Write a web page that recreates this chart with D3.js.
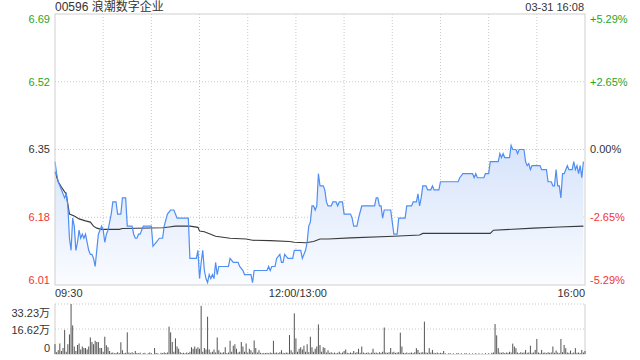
<!DOCTYPE html>
<html>
<head>
<meta charset="utf-8">
<script src="https://cdn.jsdelivr.net/npm/d3@7"></script>
<style>
  body { margin: 0; background: #fff; }
  text { font-family: "Liberation Sans", Arial, "Noto Sans CJK SC", sans-serif; }
</style>
</head>
<body>
<div id="chart"></div>
<script>
const title = "00596 浪潮数字企业";
const stamp = "03-31 16:08";
const prevClose = 6.35;
const maxPct = 0.0529;
const timeLabels = ["09:30", "12:00/13:00", "16:00"];
const volLabels = ["33.23万", "16.62万", "0"];

// [minute since 09:30 (lunch removed), price]
const price = [
  [0,6.32],[1,6.29],[2,6.27],[3,6.26],[4,6.25],[5,6.24],[6,6.23],[7,6.24],[8,6.21],[9,6.13],
  [10,6.10],[11,6.18],[12,6.16],[13,6.10],[14,6.12],[15,6.15],[16,6.13],[17,6.14],[18,6.13],[19,6.14],
  [20,6.12],[21,6.10],[22,6.09],[23,6.09],[24,6.08],[25,6.06],[26,6.10],[27,6.14],[28,6.15],[29,6.16],
  [30,6.15],[31,6.12],[32,6.14],[33,6.15],[34,6.17],[35,6.19],[36,6.22],[38,6.22],[39,6.19],[41,6.19],
  [42,6.23],[44,6.23],[45,6.16],[48,6.16],[49,6.14],[50,6.13],[51,6.13],[52,6.14],[53,6.14],[55,6.16],
  [60,6.16],[61,6.11],[63,6.12],[65,6.13],[67,6.13],[68,6.16],[70,6.19],[72,6.20],[74,6.20],[76,6.18],
  [83,6.18],[84,6.08],[88,6.08],[89,6.10],[90,6.03],[91,6.07],[92,6.10],[93,6.05],[94,6.03],[95,6.02],
  [96,6.04],[97,6.03],[98,6.04],[99,6.03],[100,6.07],[101,6.04],[102,6.06],[108,6.06],[109,6.08],[111,6.07],
  [114,6.07],[115,6.06],[117,6.05],[118,6.04],[122,6.04],[123,6.02],[124,6.05],[132,6.05],[133,6.06],[134,6.05],
  [135,6.06],[137,6.06],[138,6.08],[140,6.09],[141,6.07],[142,6.07],[143,6.09],[145,6.08],[148,6.08],[149,6.10],
  [153,6.10],[154,6.08],[156,6.10],[157,6.12],[158,6.16],[159,6.17],[160,6.21],[161,6.21],[162,6.20],[163,6.21],
  [164,6.29],[165,6.26],[167,6.26],[168,6.25],[169,6.22],[170,6.21],[172,6.21],[173,6.22],[175,6.22],[176,6.21],
  [177,6.22],[179,6.22],[180,6.19],[184,6.19],[185,6.18],[186,6.16],[188,6.16],[189,6.18],[191,6.21],[199,6.21],
  [200,6.23],[201,6.23],[202,6.21],[203,6.21],[204,6.18],[205,6.20],[209,6.20],[210,6.17],[211,6.14],[213,6.14],
  [214,6.18],[218,6.18],[219,6.21],[222,6.21],[223,6.22],[225,6.22],[226,6.24],[227,6.21],[228,6.23],[229,6.26],
  [231,6.26],[232,6.25],[234,6.25],[235,6.26],[236,6.25],[239,6.25],[240,6.27],[251,6.27],[252,6.28],[254,6.29],
  [260,6.29],[261,6.28],[262,6.29],[263,6.28],[267,6.28],[268,6.29],[270,6.29],[271,6.32],[276,6.32],[277,6.34],
  [278,6.33],[279,6.34],[280,6.33],[283,6.33],[284,6.36],[285,6.35],[287,6.35],[288,6.34],[289,6.35],[292,6.35],
  [293,6.32],[294,6.31],[295,6.315],[296,6.30],[297,6.31],[302,6.31],[303,6.30],[306,6.30],[307,6.27],[309,6.27],
  [310,6.26],[311,6.26],[312,6.30],[313,6.26],[314,6.26],[315,6.23],[316,6.29],[317,6.29],[318,6.30],[319,6.31],
  [320,6.30],[322,6.30],[323,6.32],[324,6.30],[325,6.31],[326,6.29],[327,6.31],[328,6.28],[329,6.32]
];

// [minute, average price]
const avgPrice = [
  [0,6.295],[2,6.27],[4,6.257],[6,6.245],[7,6.24],[9,6.19],[12,6.185],[15,6.178],[19,6.173],[22,6.17],
  [24,6.16],[26,6.155],[29,6.152],[40,6.152],[42,6.154],[67,6.156],[71,6.158],[75,6.16],[84,6.16],[89,6.157],
  [90,6.148],[93,6.146],[100,6.135],[109,6.13],[119,6.128],[123,6.125],[134,6.124],[146,6.122],[149,6.12],[156,6.119],
  [161,6.122],[165,6.128],[170,6.128],[184,6.131],[211,6.135],[227,6.138],[229,6.142],[271,6.142],[273,6.15],[298,6.155],
  [314,6.158],[329,6.16]
];

// [minute, volume in 万 shares]
const volume = [
  [0,6.6],[1,1.2],[2,2.5],[3,7],[4,2],[5,4],[6,16],[7,1.5],[8,6.5],[9,13],[10,33.23],[11,19],[12,5],[13,2],
  [14,6],[15,7],[16,3],[17,5],[18,4],[19,4],[20,3],[21,5],[22,11],[23,8],[24,6.5],[25,8.8],[26,8],[27,8],
  [28,4],[29,4],[30,1.5],[31,11.5],[32,5.8],[33,4.5],[34,2],[35,0.8],[36,1],[37,0.5],[38,0.7],[39,1.2],
  [40,0.6],[41,7.8],[42,2.5],[43,0.6],[44,0.8],[45,14.4],[46,1],[47,0.6],[48,1.2],[49,0.5],[50,2],[51,0.7],
  [52,0.5],[53,0.9],[55,0.6],[56,0.8],[58,0.5],[59,1],[60,0.6],[62,4],[63,0.7],[64,0.5],[66,0.8],[67,0.6],
  [68,1.1],[69,0.7],[70,1],[71,18.2],[72,14.4],[73,8],[74,1.5],[75,10.4],[76,5],[77,3.5],[78,1.2],[79,0.6],
  [80,0.8],[81,0.5],[82,1],[83,0.7],[84,1.5],[85,4.5],[86,3.5],[87,5],[88,3.5],[89,4.5],[90,3.5],[91,32],
  [92,1.5],[93,4],[94,3],[95,24.8],[96,3],[97,1],[98,1.5],[99,3],[100,1],[101,11],[102,2.5],[103,1],[104,0.8],
  [105,1.2],[106,4.5],[107,0.6],[108,1],[109,8.8],[110,1.5],[111,5.5],[112,6.5],[113,3.5],[114,1],[115,1.5],
  [116,8],[117,5],[118,1.5],[119,7],[120,1],[121,3.5],[122,2.5],[123,1],[124,9],[125,4],[126,1],[127,2.5],
  [128,0.8],[129,0.5],[130,0.7],[131,0.6],[132,0.8],[133,0.5],[134,1],[135,0.7],[136,8.8],[137,0.8],[138,1],
  [139,0.6],[140,1.2],[141,2.5],[142,0.8],[143,0.6],[144,1],[145,0.8],[146,12.6],[147,2.5],[148,1],[149,27],
  [150,10.4],[151,1.5],[152,3.5],[153,4.5],[154,3],[155,5.5],[156,1.5],[157,6.5],[158,1.2],[159,11.5],
  [160,4.5],[161,1.5],[162,3.5],[163,5],[164,19.7],[165,6],[166,1.5],[167,4.5],[168,4],[169,1],[170,2.5],
  [171,0.8],[172,1.2],[173,0.6],[174,1],[175,0.5],[176,0.8],[177,1.5],[178,0.6],[179,1],[180,2],[181,3],
  [182,0.8],[183,0.6],[184,1],[185,0.7],[186,2],[187,0.8],[188,1.2],[189,3.5],[190,0.8],[191,5],[192,1],
  [193,0.6],[194,0.8],[195,1],[196,0.5],[197,0.9],[198,3.5],[199,0.8],[200,1],[201,0.6],[202,1.2],[203,0.8],
  [204,1.5],[205,17.6],[206,1],[207,0.8],[208,1.2],[209,4],[210,1],[211,1.5],[212,0.7],[213,1],[214,1.2],
  [215,14.2],[216,5],[217,0.8],[218,0.6],[219,1],[220,0.5],[221,0.8],[222,1],[223,0.6],[224,1.2],[225,3.9],
  [226,2.7],[227,0.8],[228,1],[229,1.2],[230,21.5],[231,1],[232,0.8],[233,3.9],[234,1],[235,2.7],[236,0.8],
  [237,0.6],[238,1],[239,0.5],[240,0.8],[241,0.6],[242,2],[243,0.5],[245,0.4],[246,0.6],[248,0.5],[250,0.4],
  [251,0.7],[253,0.5],[255,0.4],[256,0.6],[258,0.5],[260,0.4],[262,0.6],[264,0.5],[266,0.4],[268,0.6],
  [270,0.5],[272,0.8],[273,1],[274,19.9],[275,12.4],[276,3.9],[277,1],[278,0.8],[279,1.2],[280,0.6],[281,1],
  [282,0.8],[283,1.5],[284,1],[285,6.9],[286,5],[287,3.9],[288,1],[289,0.6],[290,1.2],[291,0.8],[292,1],
  [293,2.7],[294,0.8],[295,1],[296,5.5],[297,0.8],[298,1],[299,2.7],[300,10],[301,1],[302,0.6],[303,2.7],
  [304,0.8],[305,1],[306,0.6],[307,1.2],[308,0.8],[309,1],[310,5],[311,0.8],[312,2.3],[313,1],[314,0.6],
  [315,10],[316,1.2],[317,6],[318,3.9],[319,1],[320,0.8],[321,2.3],[322,0.6],[323,1],[324,3.9],[325,0.8],
  [326,1],[327,0.6],[328,2.7],[329,1],[330,2]
];

const W = 640, H = 360;
const green = "#1fa61f", red = "#f33333", dark = "#333", grid = "#c8c8c8";

const svg = d3.select("#chart").append("svg").attr("width", W).attr("height", H);

const x = d3.scaleLinear().domain([0, 330]).range([55, 585]);
const y = d3.scaleLinear()
  .domain([prevClose * (1 - maxPct), prevClose * (1 + maxPct)])
  .range([285, 14]);
const yv = d3.scaleLinear().domain([0, 33.23]).range([354, 304]);

// gradient for the area
const grad = svg.append("defs").append("linearGradient")
  .attr("id", "fill").attr("x1", 0).attr("y1", 0).attr("x2", 0).attr("y2", 1);
grad.append("stop").attr("offset", "0%").attr("stop-color", "#d6e3fb");
grad.append("stop").attr("offset", "100%").attr("stop-color", "#fafcff");

// title + time stamp
svg.append("text").attr("x", 55).attr("y", 11).attr("font-size", 12).attr("fill", dark).text(title);
svg.append("text").attr("x", 584).attr("y", 11).attr("font-size", 11).attr("fill", dark)
  .attr("text-anchor", "end").text(stamp);

// price grid
const steps = [2, 1, 0, -1, -2];
const lvl = k => prevClose * (1 + maxPct * k / 2);
svg.append("g").selectAll("line")
  .data([1, 0, -1]).enter().append("line")
  .attr("x1", x(0)).attr("x2", x(330))
  .attr("y1", k => y(lvl(k))).attr("y2", k => y(lvl(k)))
  .attr("stroke", grid).attr("stroke-dasharray", "1,2");
svg.append("g").selectAll("line")
  .data(d3.range(30, 330, 30)).enter().append("line")
  .attr("x1", d => x(d)).attr("x2", d => x(d))
  .attr("y1", y.range()[1]).attr("y2", y.range()[0])
  .attr("stroke", grid).attr("stroke-dasharray", "1,2");

// watermark
svg.append("text").attr("x", 573).attr("y", 283).attr("font-size", 11)
  .attr("fill", "#d8d8d8").attr("text-anchor", "end").text("sina.com");

// area + lines
const area = d3.area().x(d => x(d[0])).y0(y.range()[0]).y1(d => y(d[1]));
svg.append("path").datum(price).attr("d", area).attr("fill", "url(#fill)");
svg.append("path").datum(avgPrice)
  .attr("d", d3.line().x(d => x(d[0])).y(d => y(d[1])))
  .attr("fill", "none").attr("stroke", "#3a3a3a").attr("stroke-width", 1.1);
svg.append("path").datum(price)
  .attr("d", d3.line().x(d => x(d[0])).y(d => y(d[1])))
  .attr("fill", "none").attr("stroke", "#4f8ef2").attr("stroke-width", 1.2);

// price frame
svg.append("rect").attr("x", x(0)).attr("y", y.range()[1])
  .attr("width", x(330) - x(0)).attr("height", y.range()[0] - y.range()[1])
  .attr("fill", "none").attr("stroke", "#cfcfcf");

// price labels
const colorFor = k => k > 0 ? green : (k < 0 ? red : dark);
const shift = k => k === 2 ? 5 : (k === -2 ? -5 : 0);
svg.append("g").selectAll("text").data(steps).enter().append("text")
  .attr("x", 50).attr("y", k => y(lvl(k)) + shift(k))
  .attr("dy", "0.35em").attr("text-anchor", "end").attr("font-size", 11)
  .attr("fill", colorFor).text(k => lvl(k).toFixed(2));
svg.append("g").selectAll("text").data(steps).enter().append("text")
  .attr("x", 590).attr("y", k => y(lvl(k)) + shift(k))
  .attr("dy", "0.35em").attr("font-size", 11)
  .attr("fill", colorFor)
  .text(k => (k > 0 ? "+" : "") + (maxPct * k / 2 * 100).toFixed(2) + "%");

// time labels
svg.append("text").attr("x", x(0)).attr("y", 297).attr("font-size", 11).attr("fill", dark).text(timeLabels[0]);
svg.append("text").attr("x", x(150) + 2).attr("y", 297).attr("font-size", 11).attr("fill", dark)
  .attr("text-anchor", "middle").text(timeLabels[1]);
svg.append("text").attr("x", x(330)).attr("y", 297).attr("font-size", 11).attr("fill", dark)
  .attr("text-anchor", "end").text(timeLabels[2]);

// volume panel
[33.23, 16.62].forEach(v => {
  svg.append("line").attr("x1", x(0)).attr("x2", x(330))
    .attr("y1", yv(v)).attr("y2", yv(v))
    .attr("stroke", grid).attr("stroke-dasharray", "1,2");
});
svg.append("line").attr("x1", x(0)).attr("x2", x(0)).attr("y1", yv(33.23)).attr("y2", yv(0)).attr("stroke", "#cfcfcf");
svg.append("line").attr("x1", x(330)).attr("x2", x(330)).attr("y1", yv(33.23)).attr("y2", yv(0)).attr("stroke", "#cfcfcf");
svg.append("line").attr("x1", x(0)).attr("x2", x(330)).attr("y1", yv(0) + 0.5).attr("y2", yv(0) + 0.5).attr("stroke", "#e0e0e0");

svg.append("g").selectAll("rect").data(volume).enter().append("rect")
  .attr("x", d => x(d[0]) - 0.5).attr("width", 1)
  .attr("y", d => yv(d[1])).attr("height", d => yv(0) - yv(d[1]))
  .attr("fill", "#555");

const volPos = [33.23, 16.62, 0];
const volShift = [9, 1, -6];
svg.append("g").selectAll("text").data(volLabels).enter().append("text")
  .attr("x", 50).attr("y", (d, i) => yv(volPos[i]) + volShift[i])
  .attr("dy", "0.35em").attr("text-anchor", "end").attr("font-size", 11)
  .attr("fill", dark).text(d => d);
</script>
</body>
</html>
